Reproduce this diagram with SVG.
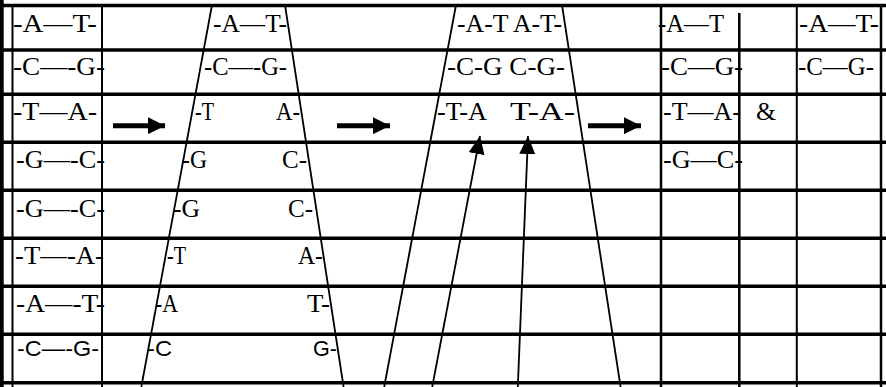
<svg xmlns="http://www.w3.org/2000/svg" width="886" height="387" viewBox="0 0 886 387">
<style>
.t{font-family:"Liberation Serif","Times New Roman",serif;font-size:25.5px;fill:#000}
.s{font-family:"Liberation Sans",Arial,sans-serif;font-size:22px;fill:#000}
.h{stroke:#000;stroke-width:3.5;fill:none}
.v{stroke:#000;stroke-width:2;fill:none}
.vt{stroke:#000;stroke-width:2.5;fill:none}
.sl{stroke:#000;stroke-width:1.8;fill:none}
.ra{stroke:#000;stroke-width:5;fill:none}
</style>
<defs>
<marker id="up" markerUnits="userSpaceOnUse" viewBox="0 0 18 16" refX="18" refY="8" markerWidth="18" markerHeight="16" orient="auto">
<path d="M0,0 L18,8 L0,16 Z" fill="#000"/>
</marker>
<marker id="rt" markerUnits="userSpaceOnUse" viewBox="0 0 17 17" refX="17" refY="8.5" markerWidth="17" markerHeight="17" orient="auto">
<path d="M0,0 L17,8.5 L0,17 Z" fill="#000"/>
</marker>
</defs>
<rect width="886" height="387" fill="#fff"/>
<g id="grid">
<rect x="0" y="0" width="3.7" height="387" fill="#000"/>
<line class="h" x1="0" y1="5.6" x2="886" y2="5.6"/>
<line class="h" x1="0" y1="50" x2="886" y2="50"/>
<line class="h" x1="0" y1="94.3" x2="886" y2="94.3"/>
<line class="h" x1="0" y1="142.3" x2="886" y2="142.3"/>
<line class="h" x1="0" y1="190.2" x2="886" y2="190.2"/>
<line class="h" x1="0" y1="238.3" x2="886" y2="238.3"/>
<line class="h" x1="0" y1="286.2" x2="886" y2="286.2"/>
<line class="h" x1="0" y1="334.3" x2="886" y2="334.3"/>
<line class="h" x1="0" y1="382.7" x2="886" y2="382.7"/>
<line class="v" x1="12.5" y1="5" x2="12.5" y2="387"/>
<line class="v" x1="102" y1="5" x2="102" y2="387"/>
<line class="vt" x1="661" y1="5" x2="661" y2="387"/>
<line class="vt" x1="739.3" y1="13" x2="739.3" y2="387"/>
<line class="v" x1="796.8" y1="5" x2="796.8" y2="387"/>
<line class="vt" x1="881" y1="5" x2="881" y2="387"/>
</g>
<g id="panel1">
<text class="t" x="13" y="32" textLength="84" lengthAdjust="spacingAndGlyphs">-A—T-</text>
<text class="t" x="13" y="75" textLength="92" lengthAdjust="spacingAndGlyphs">-C—-G-</text>
<text class="t" x="13" y="120" textLength="84" lengthAdjust="spacingAndGlyphs">-T—A-</text>
<text class="t" x="16" y="168" textLength="89" lengthAdjust="spacingAndGlyphs">-G—-C-</text>
<text class="t" x="16" y="216.5" textLength="89" lengthAdjust="spacingAndGlyphs">-G—-C-</text>
<text class="t" x="15" y="264" textLength="89" lengthAdjust="spacingAndGlyphs">-T—-A-</text>
<text class="t" x="16" y="312" textLength="89" lengthAdjust="spacingAndGlyphs">-A—-T-</text>
<text class="s" x="17" y="356" textLength="82" lengthAdjust="spacingAndGlyphs">-C—-G-</text>
</g>
<g id="panel2">
<text class="t" x="213" y="32" textLength="74" lengthAdjust="spacingAndGlyphs">-A—T-</text>
<text class="t" x="204" y="75" textLength="83" lengthAdjust="spacingAndGlyphs">-C—-G-</text>
<text class="t" x="195" y="120" textLength="19" lengthAdjust="spacingAndGlyphs">-T</text>
<text class="t" x="276" y="120" textLength="24" lengthAdjust="spacingAndGlyphs">A-</text>
<text class="t" x="182" y="168" textLength="25" lengthAdjust="spacingAndGlyphs">-G</text>
<text class="t" x="282" y="168" textLength="25" lengthAdjust="spacingAndGlyphs">C-</text>
<text class="t" x="173" y="216.5" textLength="27" lengthAdjust="spacingAndGlyphs">-G</text>
<text class="t" x="288" y="216.5" textLength="25" lengthAdjust="spacingAndGlyphs">C-</text>
<text class="t" x="167" y="264" textLength="19" lengthAdjust="spacingAndGlyphs">-T</text>
<text class="t" x="298" y="264" textLength="25" lengthAdjust="spacingAndGlyphs">A-</text>
<text class="t" x="155" y="312" textLength="23" lengthAdjust="spacingAndGlyphs">-A</text>
<text class="t" x="307" y="312" textLength="23" lengthAdjust="spacingAndGlyphs">T-</text>
<text class="s" x="147" y="356" textLength="25" lengthAdjust="spacingAndGlyphs">-C</text>
<text class="s" x="313" y="356" textLength="24" lengthAdjust="spacingAndGlyphs">G-</text>
</g>
<g id="panel3">
<text class="t" x="457" y="32" textLength="105" lengthAdjust="spacingAndGlyphs">-A-T A-T-</text>
<text class="t" x="447" y="75" textLength="118" lengthAdjust="spacingAndGlyphs">-C-G C-G-</text>
<text class="t" x="437" y="120" textLength="50" lengthAdjust="spacingAndGlyphs">-T-A</text>
<text class="t" x="510" y="120" textLength="65" lengthAdjust="spacingAndGlyphs">T-A-</text>
</g>
<g id="panel4">
<text class="t" x="658" y="32" textLength="66" lengthAdjust="spacingAndGlyphs">-A—T</text>
<text class="t" x="661" y="75" textLength="82" lengthAdjust="spacingAndGlyphs">-C—G-</text>
<text class="t" x="663" y="120" textLength="78" lengthAdjust="spacingAndGlyphs">-T—A-</text>
<text class="t" x="756" y="120" textLength="20" lengthAdjust="spacingAndGlyphs">&amp;</text>
<text class="t" x="663" y="168" textLength="80" lengthAdjust="spacingAndGlyphs">-G—C-</text>
</g>
<g id="panel5">
<text class="t" x="799" y="32" textLength="80" lengthAdjust="spacingAndGlyphs">-A—T-</text>
<text class="t" x="798" y="75" textLength="76" lengthAdjust="spacingAndGlyphs">-C—G-</text>
</g>
<g id="connectors">
<line class="sl" x1="212" y1="5" x2="141.3" y2="387"/>
<line class="sl" x1="285" y1="5" x2="343.6" y2="387"/>
<line class="sl" x1="456" y1="5" x2="384.2" y2="387"/>
<line class="sl" x1="562" y1="5" x2="620.6" y2="387"/>
<line class="sl" x1="432.2" y1="387" x2="480" y2="136" marker-end="url(#up)"/>
<line class="sl" x1="517.8" y1="387" x2="528" y2="136" marker-end="url(#up)"/>
<line class="ra" x1="113" y1="125.7" x2="165" y2="125.7" marker-end="url(#rt)"/>
<line class="ra" x1="337" y1="125.7" x2="390" y2="125.7" marker-end="url(#rt)"/>
<line class="ra" x1="588" y1="125.7" x2="641" y2="125.7" marker-end="url(#rt)"/>
</g>
</svg>
